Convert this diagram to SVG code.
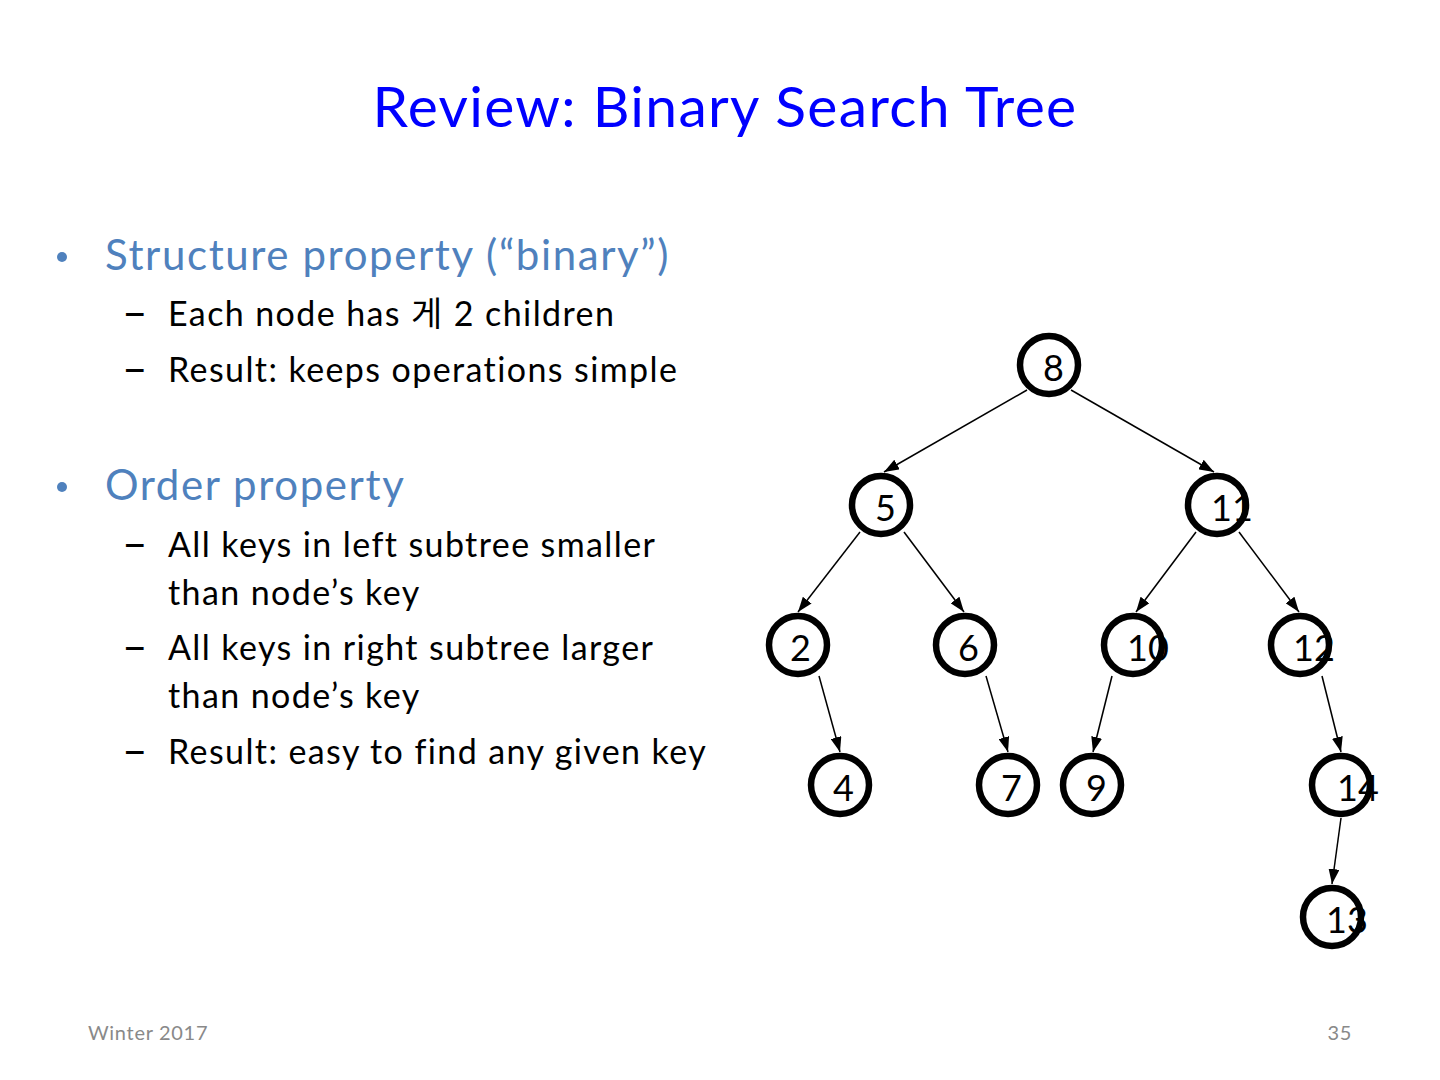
<svg xmlns="http://www.w3.org/2000/svg" width="1440" height="1080" viewBox="0 0 1440 1080">
<style>
.title{font-family:Lato,"Liberation Sans",sans-serif;font-size:57px;letter-spacing:1.3px;fill:#0000FF}
.b1{font-family:Lato,"Liberation Sans","Noto Sans CJK KR",sans-serif;font-size:42px;letter-spacing:1.6px;fill:#4F81BD}
.b2{font-family:Lato,"Liberation Sans","Noto Sans CJK KR",sans-serif;font-size:34px;letter-spacing:1.4px;fill:#000}
.dash{font-family:Lato,"Liberation Sans",sans-serif;font-size:44px;fill:#000}
.foot{font-family:Lato,"Liberation Sans",sans-serif;font-size:20px;letter-spacing:0.7px;fill:#898989}
.node circle{fill:#fff;stroke:#000;stroke-width:6.5}
.node text{font-family:Lato,"Liberation Sans",sans-serif;font-size:36px;fill:#000}
.edge{stroke:#000;stroke-width:1.5;fill:none;marker-end:url(#arr)}
</style>
<defs>
<marker id="arr" viewBox="0 0 15 11" refX="15" refY="5.5" markerWidth="15" markerHeight="11" markerUnits="userSpaceOnUse" orient="auto">
<path d="M0,0 L15,5.5 L0,11 Z" fill="#000"/>
</marker>
</defs>
<rect width="1440" height="1080" fill="#fff"/>
<text class="title" x="725" y="127" text-anchor="middle">Review: Binary Search Tree</text>
<g id="text-body">
<circle cx="62" cy="257" r="5" fill="#4F81BD"/>
<text class="b1" x="105" y="270">Structure property (“binary”)</text>
<text class="dash" x="122" y="328">–</text>
<text class="b2" x="168" y="326">Each node has 게 2 children</text>
<text class="dash" x="122" y="384">–</text>
<text class="b2" x="168" y="382">Result: keeps operations simple</text>
<circle cx="62" cy="487" r="5" fill="#4F81BD"/>
<text class="b1" x="105" y="500">Order property</text>
<text class="dash" x="122" y="559">–</text>
<text class="b2" x="168" y="557">All keys in left subtree smaller</text>
<text class="b2" x="168" y="605">than node’s key</text>
<text class="dash" x="122" y="662">–</text>
<text class="b2" x="168" y="660">All keys in right subtree larger</text>
<text class="b2" x="168" y="708">than node’s key</text>
<text class="dash" x="122" y="766">–</text>
<text class="b2" x="168" y="764">Result: easy to find any given key</text>
</g>
<g id="connectors">
<line class="edge" x1="1027" y1="390" x2="884" y2="472"/>
<line class="edge" x1="1071" y1="390" x2="1214" y2="472"/>
<line class="edge" x1="860" y1="532" x2="798" y2="612"/>
<line class="edge" x1="904" y1="532" x2="964" y2="612"/>
<line class="edge" x1="1196" y1="532" x2="1136" y2="612"/>
<line class="edge" x1="1239" y1="532" x2="1299" y2="612"/>
<line class="edge" x1="819" y1="676" x2="840" y2="752"/>
<line class="edge" x1="986" y1="676" x2="1008" y2="752"/>
<line class="edge" x1="1112" y1="676" x2="1093" y2="752"/>
<line class="edge" x1="1322" y1="676" x2="1341" y2="752"/>
<line class="edge" x1="1341" y1="818" x2="1332" y2="884"/>
</g>
<g id="n8" class="node"><circle cx="1049" cy="365" r="29"/><text x="1043" y="381">8</text></g>
<g id="n5" class="node"><circle cx="881" cy="505" r="29"/><text x="875" y="521">5</text></g>
<g id="n11" class="node"><circle cx="1217" cy="505" r="29"/><text x="1211" y="521">11</text></g>
<g id="n2" class="node"><circle cx="798" cy="645" r="29"/><text x="790" y="661">2</text></g>
<g id="n6" class="node"><circle cx="965" cy="645" r="29"/><text x="958" y="661">6</text></g>
<g id="n10" class="node"><circle cx="1133" cy="645" r="29"/><text x="1127" y="661">10</text></g>
<g id="n12" class="node"><circle cx="1300" cy="645" r="29"/><text x="1293" y="661">12</text></g>
<g id="n4" class="node"><circle cx="840" cy="785" r="29"/><text x="833" y="801">4</text></g>
<g id="n7" class="node"><circle cx="1008" cy="785" r="29"/><text x="1001" y="801">7</text></g>
<g id="n9" class="node"><circle cx="1092" cy="785" r="29"/><text x="1086" y="801">9</text></g>
<g id="n14" class="node"><circle cx="1341" cy="785" r="29"/><text x="1337" y="801">14</text></g>
<g id="n13" class="node"><circle cx="1332" cy="917" r="29"/><text x="1326" y="933">13</text></g>
<text class="foot" x="88" y="1040">Winter 2017</text>
<text class="foot" x="1352" y="1040" text-anchor="end">35</text>
</svg>
